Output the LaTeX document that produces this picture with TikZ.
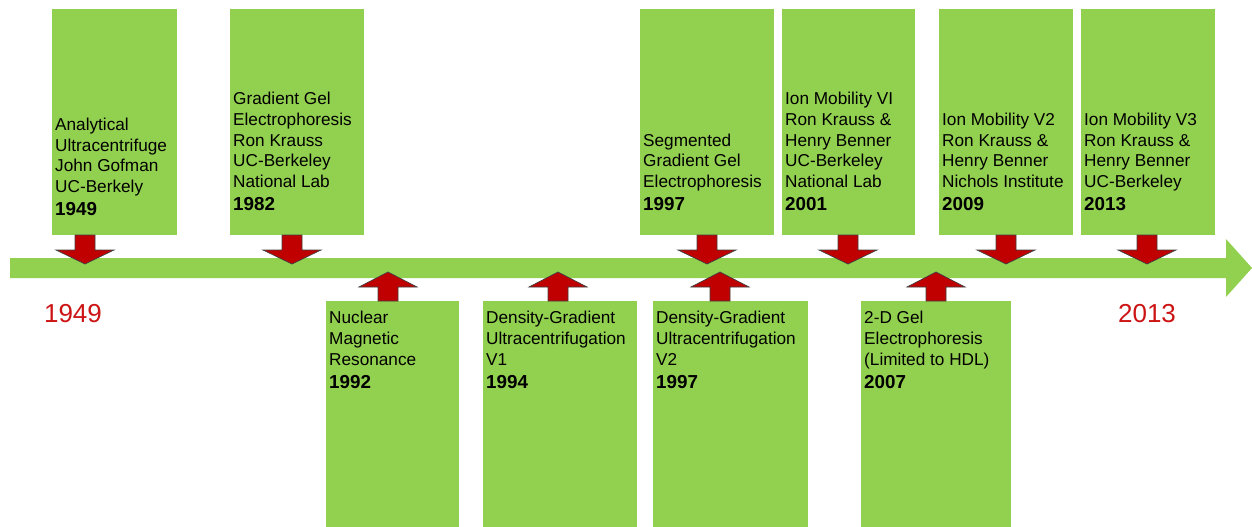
\documentclass[tikz,border=0pt]{standalone}
\usepackage{fontspec}
\setmainfont{Liberation Sans}
\usetikzlibrary{positioning}
\definecolor{evgreen}{HTML}{92D050}
\definecolor{evred}{HTML}{C00000}
\definecolor{yrred}{HTML}{CC1414}
\newcommand\evyear[1]{\\[2.3pt]{\fontsize{18.8}{20.7}\selectfont\bfseries #1}}

\begin{document}
\begin{tikzpicture}[x=1pt,y=-1pt,
    evbox/.style={fill=evgreen},
    evtext/.style={inner sep=0pt,align=left,font=\fontsize{17.2}{20.7}\selectfont},
    blockarrow/.style={fill=evred,draw=black!75,line width=0.7pt},
    downarr/.pic={\filldraw[blockarrow] (-10,0) -- (-10,15) -- (-29,15) -- (0,29) -- (29,15) -- (10,15) -- (10,0) -- cycle;},
    uparr/.pic={\filldraw[blockarrow] (-10,0) -- (-10,-14) -- (-29,-14) -- (0,-29) -- (29,-14) -- (10,-14) -- (10,0) -- cycle;},
    yearmark/.style={text=yrred,inner sep=0pt,anchor=base,font=\fontsize{26}{30}\selectfont}]
  \useasboundingbox (0,0) rectangle (1252,527);
  \fill[evgreen] (10,258) -- (1226,258) -- (1226,239) -- (1252,268) -- (1226,297) -- (1226,278) -- (10,278) -- cycle;
  \foreach \l/\r in {52/177,230/364,640/774,782/915,939/1073,1081/1215}
    \fill[evbox] (\l,9) rectangle (\r,235);
  \foreach \l/\r in {326/459,483/637,653/808,861/1011}
    \fill[evbox] (\l,301) rectangle (\r,527);
  \foreach \cx in {85,292,707,848,1006,1147}
    \pic at (\cx,235) {downarr};
  \foreach \cx in {388,558,720,936}
    \pic at (\cx,301) {uparr};
  \node[evtext,anchor=south west] (gofman) at (55,216) {Analytical\\Ultracentrifuge\\John Gofman\\UC-Berkely\evyear{1949}};
  \node[evtext,anchor=south west] (gradgel) at (233,211) {Gradient Gel\\Electrophoresis\\Ron Krauss\\UC-Berkeley\\National Lab\evyear{1982}};
  \node[evtext,anchor=south west] (segmented) at (643,211) {Segmented\\Gradient Gel\\Electrophoresis\evyear{1997}};
  \node[evtext,anchor=south west] (ionvi) at (785,211) {Ion Mobility VI\\Ron Krauss \&\\Henry Benner\\UC-Berkeley\\National Lab\evyear{2001}};
  \node[evtext,anchor=south west] (ionvtwo) at (942,211) {Ion Mobility V2\\Ron Krauss \&\\Henry Benner\\Nichols Institute\evyear{2009}};
  \node[evtext,anchor=south west] (ionvthree) at (1084,211) {Ion Mobility V3\\Ron Krauss \&\\Henry Benner\\UC-Berkeley\evyear{2013}};
  \node[evtext,anchor=north west] (nmr) at (329,311) {Nuclear\\Magnetic\\Resonance\evyear{1992}};
  \node[evtext,anchor=north west] (dgone) at (486,311) {Density-Gradient\\Ultracentrifugation\\V1\evyear{1994}};
  \node[evtext,anchor=north west] (dgtwo) at (656,311) {Density-Gradient\\Ultracentrifugation\\V2\evyear{1997}};
  \node[evtext,anchor=north west] (twodgel) at (864,311) {2-D Gel\\Electrophoresis\\(Limited to HDL)\evyear{2007}};
  \node[yearmark] (start) at (73,322) {1949};
  \node[yearmark] (end) at (1147,322) {2013};
\end{tikzpicture}
\end{document}
